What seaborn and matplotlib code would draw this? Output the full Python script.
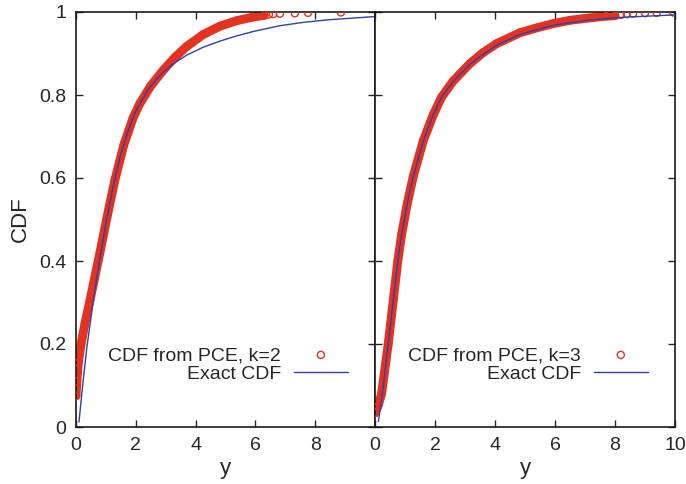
import matplotlib
matplotlib.use("Agg")
import matplotlib.pyplot as plt
import seaborn as sns

# --- dados ---
# painel esquerdo (k=2): CDF exata
y_exact_k2 = [0.10, 0.20, 0.36, 0.59, 0.77, 1.00, 1.23, 1.45, 1.70, 1.97, 2.40, 2.81,
              3.25, 3.70, 4.25, 4.82, 5.40, 5.93, 6.82, 7.60, 8.40, 9.20, 10.0]
cdf_exact_k2 = [0.012, 0.085, 0.19, 0.31, 0.395, 0.49, 0.575, 0.645, 0.705, 0.757, 0.812, 0.848,
                0.875, 0.896, 0.915, 0.930, 0.943, 0.953, 0.967, 0.975, 0.981, 0.985, 0.989]

# painel esquerdo (k=2): CDF a partir do PCE (parte densa)
y_pce_k2 = [0.0, 0.03, 0.08, 0.17, 0.30, 0.47, 0.80, 1.05, 1.30, 1.60, 1.91, 2.14,
            2.50, 2.92, 3.30, 3.70, 4.26, 4.82, 5.37, 5.93, 6.30]
cdf_pce_k2 = [0.075, 0.11, 0.155, 0.20, 0.25, 0.306, 0.42, 0.51, 0.595, 0.68, 0.745, 0.78,
              0.822, 0.86, 0.89, 0.917, 0.946, 0.966, 0.979, 0.988, 0.992]
# cauda esparsa
y_tail_k2 = [6.45, 6.59, 6.82, 7.32, 7.76, 8.86]
cdf_tail_k2 = [0.994, 0.995, 0.996, 0.997, 0.998, 0.999]

# painel direito (k=3): CDF exata
y_exact_k3 = [0.11, 0.22, 0.44, 0.61, 0.76, 0.89, 1.08, 1.28, 1.61, 1.94, 2.22,
              2.61, 3.17, 3.39, 4.06, 4.83, 5.94, 7.06, 8.17, 10.0]
cdf_exact_k3 = [0.013, 0.065, 0.20, 0.306, 0.40, 0.465, 0.54, 0.605, 0.69, 0.752, 0.795,
                0.833, 0.874, 0.887, 0.92, 0.946, 0.968, 0.980, 0.987, 0.993]

# painel direito (k=3): CDF a partir do PCE
y_pce_k3 = [0.0, 0.10, 0.22, 0.44, 0.61, 0.76, 0.89, 1.08, 1.28, 1.61, 1.94, 2.22,
            2.61, 3.17, 3.60, 4.06, 4.83, 5.40, 5.94, 6.50, 7.06, 7.70, 8.00]
cdf_pce_k3 = [0.034, 0.05, 0.08, 0.20, 0.306, 0.40, 0.465, 0.54, 0.605, 0.69, 0.752, 0.795,
              0.834, 0.876, 0.902, 0.924, 0.950, 0.962, 0.972, 0.980, 0.985, 0.990, 0.991]
y_tail_k3 = [8.20, 8.39, 8.60, 9.00, 9.39, 9.94]
cdf_tail_k3 = [0.993, 0.995, 0.996, 0.997, 0.998, 0.999]

VERMELHO = "#e3321f"
AZUL = "#2f40a8"

sns.set_style("ticks")
plt.rcParams["font.family"] = ["Liberation Sans", "DejaVu Sans"]

fig = plt.figure(figsize=(6.86, 4.84), dpi=100)
ax1 = fig.add_axes([76 / 686, 57 / 484, 299 / 686, 415 / 484])
ax2 = fig.add_axes([375 / 686, 57 / 484, 300 / 686, 415 / 484])

paineis = [
    (ax1, y_exact_k2, cdf_exact_k2, y_pce_k2, cdf_pce_k2, y_tail_k2, cdf_tail_k2, "CDF from PCE, k=2"),
    (ax2, y_exact_k3, cdf_exact_k3, y_pce_k3, cdf_pce_k3, y_tail_k3, cdf_tail_k3, "CDF from PCE, k=3"),
]

for ax, ye, ce, yp, cp, yt, ct, rotulo in paineis:
    # faixa densa de pontos
    sns.lineplot(x=yp, y=cp, ax=ax, color=VERMELHO, linewidth=6.4, estimator=None,
                 solid_capstyle="round", solid_joinstyle="round", legend=False, zorder=2)
    sns.scatterplot(x=yp + yt, y=cp + ct, ax=ax, marker="o", s=26, facecolors="none",
                    edgecolor=VERMELHO, linewidth=1.0, label=rotulo, zorder=3)
    sns.lineplot(x=ye, y=ce, ax=ax, color=AZUL, linewidth=1.0, estimator=None,
                 label="Exact CDF", zorder=4)

    ax.set_xlim(0, 10)
    ax.set_ylim(0, 1)
    ax.tick_params(direction="in", length=5, width=1.0, top=True, right=True,
                   labelsize=14, pad=7)
    for s in ax.spines.values():
        s.set_linewidth(1.2)
        s.set_color("#1a1a1a")
    ax.set_xlabel("y", fontsize=16, labelpad=3)

    h, l = ax.get_legend_handles_labels()
    ax.legend(h, l, loc="lower right", bbox_to_anchor=(0.91, 0.107), frameon=False,
              markerfirst=False, fontsize=14, handlelength=2.8, handletextpad=0.65,
              labelspacing=0.05, borderaxespad=0, borderpad=0)

ax1.set_xticks([0, 2, 4, 6, 8])
ax1.set_yticks([0, 0.2, 0.4, 0.6, 0.8, 1])
ax1.set_yticklabels(["0", "0.2", "0.4", "0.6", "0.8", "1"])
ax1.set_ylabel("CDF", fontsize=16, labelpad=6)

ax2.set_xticks([0, 2, 4, 6, 8, 10])
ax2.set_yticks([0, 0.2, 0.4, 0.6, 0.8, 1])
ax2.set_yticklabels([])
ax2.set_ylabel("")

fig.savefig("out.png", dpi=100)
